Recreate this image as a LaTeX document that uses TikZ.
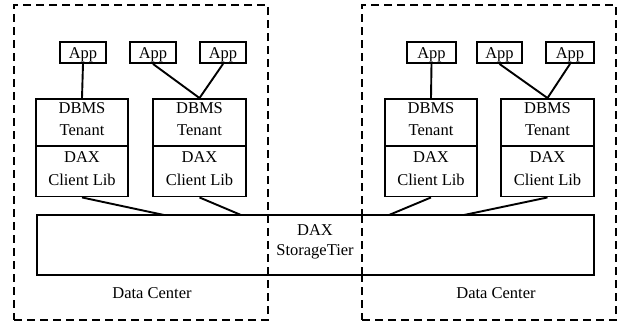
\documentclass[tikz,border=0pt]{standalone}
\usepackage{fontspec}
\setmainfont{Liberation Serif}
\begin{document}
\begin{tikzpicture}[x=1pt,y=-1pt,
  box/.style={draw,line width=1.9pt,rectangle,inner sep=0pt},
  dc/.style={draw,line width=1.9pt,dash pattern=on 8pt off 5pt,rectangle,inner sep=0pt},
  lbl/.style={inner sep=0pt,anchor=base,font=\fontsize{16.5}{19}\selectfont},
  conn/.style={line width=1.9pt}]
\useasboundingbox (0,0) rectangle (619,322);
% data centers
\node[dc,minimum width=254pt,minimum height=315pt] (dcl) at (141,162.5) {};
\node[dc,minimum width=254pt,minimum height=315pt] (dcr) at (489,162.5) {};
\node[lbl] (dcltext) at (152,298) {Data Center};
\node[lbl] (dcrtext) at (496,298) {Data Center};
% storage tier
\node[box,fill=white,minimum width=557pt,minimum height=60pt] (st) at (315.5,245) {};
\node[lbl] (stl1) at (315,235) {DAX};
\node[lbl] (stl2) at (315,255.5) {StorageTier};
% redraw dashed segments over storage tier
\draw[line width=1.9pt,dash pattern=on 8pt off 5pt] (268,215) -- (268,275);
\draw[line width=1.9pt,dash pattern=on 8pt off 5pt] (362,215) -- (362,275);
% apps
\foreach \n/\x/\w in {a1/83/46,a2/153/46,a3/223/46,a4/431.5/49,a5/499.5/45,a6/570/48}{
  \node[box,minimum width=\w pt,minimum height=21pt] (\n) at (\x,52.5) {};
  \node[lbl] (\n t) at (\x,58) {App};
}
% tenants and client libs
\foreach \n/\x/\w in {1/82/92,2/199.5/93,3/431/92,4/547.5/93}{
  \node[box,minimum width=\w pt,minimum height=47pt] (t\n) at (\x,122.5) {};
  \node[lbl] (t\n a) at (\x,113.3) {DBMS};
  \node[lbl] (t\n b) at (\x,135.7) {Tenant};
  \node[box,minimum width=\w pt,minimum height=50pt] (c\n) at (\x,171.5) {};
  \node[lbl] (c\n a) at (\x,162.3) {DAX};
  \node[lbl] (c\n b) at (\x,185.5) {Client Lib};
}
% app connectors
\draw[conn] (a1.south) -- (t1.north);
\draw[conn] (a2.south) -- (t2.north);
\draw[conn] (a3.south) -- (t2.north);
\draw[conn] (a4.south) -- (t3.north);
\draw[conn] (a5.south) -- (t4.north);
\draw[conn] (a6.south) -- (t4.north);
% client lib to storage
\coordinate (s1) at (164,215);
\coordinate (s2) at (241,215);
\coordinate (s3) at (389,215);
\coordinate (s4) at (464,215);
\draw[conn] (c1.south) -- (s1);
\draw[conn] (c2.south) -- (s2);
\draw[conn] (c3.south) -- (s3);
\draw[conn] (c4.south) -- (s4);
\end{tikzpicture}
\end{document}
